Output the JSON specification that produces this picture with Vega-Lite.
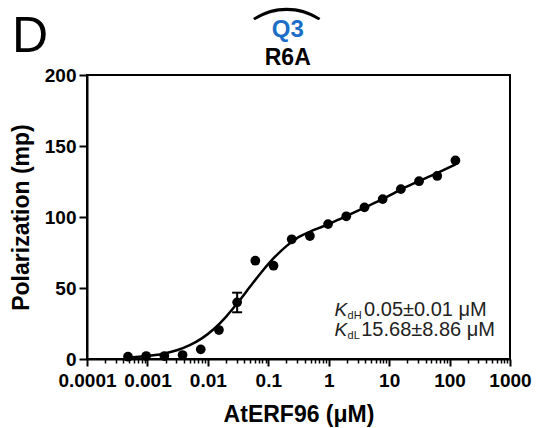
{
  "$schema": "https://vega.github.io/schema/vega-lite/v6.json",
  "width": 423,
  "height": 284,
  "autosize": {"type": "none"},
  "padding": {"left": 87, "top": 75, "right": 27, "bottom": 69},
  "background": "white",
  "config": {
    "font": "Liberation Sans",
    "view": {"stroke": "black", "strokeWidth": 2}
  },
  "datasets": {
    "curve": [
      {"conc": 0.000477, "pol": 1.0},
      {"conc": 0.000794, "pol": 1.7},
      {"conc": 0.001259, "pol": 2.6},
      {"conc": 0.001995, "pol": 4.1},
      {"conc": 0.003162, "pol": 6.3},
      {"conc": 0.005012, "pol": 9.7},
      {"conc": 0.007943, "pol": 14.5},
      {"conc": 0.012589, "pol": 21.1},
      {"conc": 0.019953, "pol": 29.7},
      {"conc": 0.031623, "pol": 39.9},
      {"conc": 0.050119, "pol": 51.0},
      {"conc": 0.079433, "pol": 61.8},
      {"conc": 0.125893, "pol": 71.5},
      {"conc": 0.199526, "pol": 79.5},
      {"conc": 0.316228, "pol": 85.8},
      {"conc": 0.501187, "pol": 89.9},
      {"conc": 0.794328, "pol": 93.3},
      {"conc": 1.0, "pol": 95.0},
      {"conc": 1.412538, "pol": 97.9},
      {"conc": 2.0, "pol": 100.7},
      {"conc": 2.818383, "pol": 103.8},
      {"conc": 3.98, "pol": 106.8},
      {"conc": 5.623, "pol": 109.7},
      {"conc": 7.94, "pol": 112.8},
      {"conc": 11.22, "pol": 116.1},
      {"conc": 15.85, "pol": 119.5},
      {"conc": 22.39, "pol": 122.5},
      {"conc": 31.62, "pol": 125.5},
      {"conc": 44.67, "pol": 128.2},
      {"conc": 63.1, "pol": 131.0},
      {"conc": 89.13, "pol": 134.0},
      {"conc": 125, "pol": 137.0}
    ],
    "points": [
      {"conc": 0.000477, "pol": 1.6},
      {"conc": 0.000954, "pol": 2.1},
      {"conc": 0.001907, "pol": 2.1},
      {"conc": 0.003815, "pol": 2.8},
      {"conc": 0.007629, "pol": 6.8},
      {"conc": 0.015259, "pol": 20.4},
      {"conc": 0.030518, "pol": 39.9},
      {"conc": 0.061035, "pol": 69.2},
      {"conc": 0.12207, "pol": 65.7},
      {"conc": 0.24414, "pol": 84.3},
      {"conc": 0.48828, "pol": 86.6},
      {"conc": 0.97656, "pol": 95.0},
      {"conc": 1.9531, "pol": 100.5},
      {"conc": 3.9063, "pol": 106.8},
      {"conc": 7.8125, "pol": 112.6},
      {"conc": 15.625, "pol": 119.6},
      {"conc": 31.25, "pol": 125.2},
      {"conc": 62.5, "pol": 128.9},
      {"conc": 125, "pol": 139.8}
    ],
    "errors": [
      {"conc": 0.030518, "lo": 32.9, "hi": 46.7}
    ]
  },
  "layer": [
    {
      "data": {"name": "curve"},
      "mark": {"type": "line", "color": "black", "strokeWidth": 2.5, "interpolate": "monotone"},
      "encoding": {
        "x": {
          "field": "conc", "type": "quantitative",
          "scale": {"type": "log", "domain": [0.0001, 1000], "nice": false},
          "axis": {
            "orient": "bottom",
            "title": "AtERF96 (μM)",
            "values": [0.0001, 0.001, 0.01, 0.1, 1, 10, 100, 1000],
            "format": "~g",
            "labelOverlap": false, "labelFlush": false, "labelBound": false,
            "labelFont": "Liberation Sans", "labelFontSize": 19, "labelFontWeight": "bold", "labelColor": "black",
            "labelPadding": 5,
            "tickSize": 7, "tickWidth": 2, "tickColor": "black",
            "domainColor": "black", "domainWidth": 2,
            "grid": false,
            "titleFont": "Liberation Sans", "titleFontSize": 23, "titleFontWeight": "bold", "titleColor": "black",
            "titlePadding": 13
          }
        },
        "y": {
          "field": "pol", "type": "quantitative",
          "scale": {"domain": [0, 200], "nice": false},
          "axis": {
            "orient": "left",
            "title": "Polarization (mp)",
            "values": [0, 50, 100, 150, 200],
            "labelFont": "Liberation Sans", "labelFontSize": 19, "labelFontWeight": "bold", "labelColor": "black",
            "labelPadding": 3,
            "tickSize": 8, "tickWidth": 2, "tickColor": "black",
            "domainColor": "black", "domainWidth": 2,
            "grid": false,
            "titleFont": "Liberation Sans", "titleFontSize": 23, "titleFontWeight": "bold", "titleColor": "black",
            "titlePadding": 11
          }
        }
      }
    },
    {
      "data": {"name": "points"},
      "mark": {"type": "circle", "color": "black", "size": 95, "opacity": 1},
      "encoding": {
        "x": {
          "field": "conc", "type": "quantitative",
          "axis": {
            "orient": "bottom",
            "title": null,
            "labels": false,
            "domain": false,
            "grid": false,
            "values": [0.0002, 0.0003, 0.0004, 0.0005, 0.0006, 0.0007, 0.0008, 0.0009,
                       0.002, 0.003, 0.004, 0.005, 0.006, 0.007, 0.008, 0.009,
                       0.02, 0.03, 0.04, 0.05, 0.06, 0.07, 0.08, 0.09,
                       0.2, 0.3, 0.4, 0.5, 0.6, 0.7, 0.8, 0.9,
                       2, 3, 4, 5, 6, 7, 8, 9,
                       20, 30, 40, 50, 60, 70, 80, 90,
                       200, 300, 400, 500, 600, 700, 800, 900],
            "tickSize": 4, "tickWidth": 1.5, "tickColor": "black"
          }
        },
        "y": {"field": "pol", "type": "quantitative", "axis": null}
      }
    },
    {
      "data": {"name": "errors"},
      "mark": {"type": "rule", "color": "black", "strokeWidth": 2},
      "encoding": {
        "x": {"field": "conc", "type": "quantitative", "axis": null},
        "y": {"field": "lo", "type": "quantitative", "axis": null},
        "y2": {"field": "hi"}
      }
    },
    {
      "data": {"name": "errors"},
      "mark": {"type": "tick", "orient": "horizontal", "color": "black", "size": 10, "thickness": 2, "opacity": 1},
      "encoding": {
        "x": {"field": "conc", "type": "quantitative", "axis": null},
        "y": {"field": "lo", "type": "quantitative", "axis": null}
      }
    },
    {
      "data": {"name": "errors"},
      "mark": {"type": "tick", "orient": "horizontal", "color": "black", "size": 10, "thickness": 2, "opacity": 1},
      "encoding": {
        "x": {"field": "conc", "type": "quantitative", "axis": null},
        "y": {"field": "hi", "type": "quantitative", "axis": null}
      }
    },
    {
      "data": {"values": [{"label": "D", "x": 0.0000114, "y": 216.2}]},
      "mark": {"type": "text", "font": "Liberation Sans", "fontSize": 50, "align": "center", "baseline": "alphabetic", "color": "black"},
      "encoding": {
        "x": {"field": "x", "type": "quantitative", "axis": null},
        "y": {"field": "y", "type": "quantitative", "axis": null},
        "text": {"field": "label"}
      }
    },
    {
      "data": {"values": [{"label": "Q3", "x": 0.21, "y": 226.8}]},
      "mark": {"type": "text", "font": "Liberation Sans", "fontSize": 24, "fontWeight": "bold", "align": "center", "baseline": "alphabetic", "color": "#1c6fc7"},
      "encoding": {
        "x": {"field": "x", "type": "quantitative", "axis": null},
        "y": {"field": "y", "type": "quantitative", "axis": null},
        "text": {"field": "label"}
      }
    },
    {
      "data": {"values": [{"label": "R6A", "x": 0.21, "y": 207.0}]},
      "mark": {"type": "text", "font": "Liberation Sans", "fontSize": 23, "fontWeight": "bold", "align": "center", "baseline": "alphabetic", "color": "black"},
      "encoding": {
        "x": {"field": "x", "type": "quantitative", "axis": null},
        "y": {"field": "y", "type": "quantitative", "axis": null},
        "text": {"field": "label"}
      }
    },
    {
      "data": {"values": [{"label": "(", "x": 0.19, "y": 243.5}]},
      "mark": {"type": "text", "font": "Lato", "fontSize": 74, "fontWeight": 300, "angle": 90, "align": "center", "baseline": "middle", "color": "black"},
      "encoding": {
        "x": {"field": "x", "type": "quantitative", "axis": null},
        "y": {"field": "y", "type": "quantitative", "axis": null},
        "text": {"field": "label"}
      }
    },
    {
      "data": {"values": [{"label": "K", "x": 1.25, "y": 30.6}, {"label": "K", "x": 1.25, "y": 15.85}]},
      "mark": {"type": "text", "font": "Liberation Sans", "fontSize": 19, "fontStyle": "italic", "align": "left", "baseline": "alphabetic", "color": "#222"},
      "encoding": {
        "x": {"field": "x", "type": "quantitative", "axis": null},
        "y": {"field": "y", "type": "quantitative", "axis": null},
        "text": {"field": "label"}
      }
    },
    {
      "data": {"values": [{"label": "dH", "x": 2.05, "y": 28.5}, {"label": "dL", "x": 2.05, "y": 13.8}]},
      "mark": {"type": "text", "font": "Liberation Sans", "fontSize": 11, "align": "left", "baseline": "alphabetic", "color": "#222"},
      "encoding": {
        "x": {"field": "x", "type": "quantitative", "axis": null},
        "y": {"field": "y", "type": "quantitative", "axis": null},
        "text": {"field": "label"}
      }
    },
    {
      "data": {"values": [{"label": "0.05±0.01 μM", "x": 3.85, "y": 30.6}, {"label": "15.68±8.86 μM", "x": 3.45, "y": 15.85}]},
      "mark": {"type": "text", "font": "Liberation Sans", "fontSize": 20, "align": "left", "baseline": "alphabetic", "color": "#222"},
      "encoding": {
        "x": {"field": "x", "type": "quantitative", "axis": null},
        "y": {"field": "y", "type": "quantitative", "axis": null},
        "text": {"field": "label"}
      }
    }
  ],
  "resolve": {"axis": {"x": "independent", "y": "independent"}}
}
